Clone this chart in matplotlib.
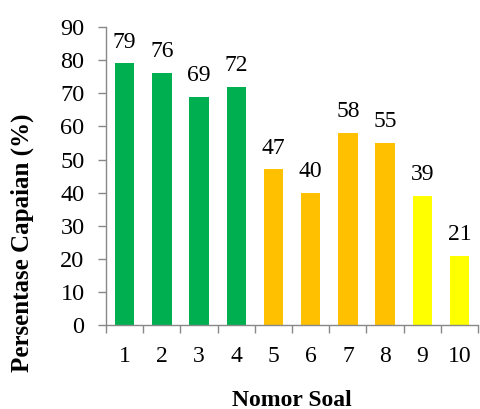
import matplotlib
matplotlib.use("Agg")
import matplotlib.pyplot as plt
import numpy as np

plt.rcParams['font.family'] = ['Liberation Serif', 'DejaVu Serif']

# data
soal = ['1', '2', '3', '4', '5', '6', '7', '8', '9', '10']
capaian = [79, 76, 69, 72, 47, 40, 58, 55, 39, 21]
warna = ['#00B050'] * 4 + ['#FFC000'] * 4 + ['#FFFF00'] * 2

fig = plt.figure(figsize=(4.8, 4.09), dpi=100)
ax = fig.add_axes([0.221, 0.205, 0.775, 0.729])

x = np.arange(len(soal))
ax.bar(x, capaian, width=0.52, color=warna)
for xi, v in zip(x, capaian):
    ax.text(xi, v + 3.3, str(v), ha='center', va='bottom', fontsize=17)

ax.set_xlim(-0.5, len(soal) - 0.5)
ax.set_ylim(0, 90)
ax.set_yticks(range(0, 91, 10))
ax.tick_params(axis='y', labelsize=17.5, direction='out', length=5.5, color='#888888', width=1, pad=10)
ax.set_xticks(x)
ax.set_xticklabels(soal)
ax.set_xticks(np.arange(-0.5, len(soal), 1), minor=True)
ax.tick_params(axis='x', which='major', length=0, labelsize=17, pad=15)
ax.tick_params(axis='x', which='minor', length=6, color='#888888', width=1)

for s in ['top', 'right']:
    ax.spines[s].set_visible(False)
for s in ['left', 'bottom']:
    ax.spines[s].set_color('#888888')
    ax.spines[s].set_linewidth(1)

fig.text(292 / 480, 1 - 400 / 409, 'Nomor Soal', fontsize=17, fontweight='bold',
         ha='center', va='center')
fig.text(22 / 480, 1 - 243 / 409, 'Persentase Capaian (%)', fontsize=18, fontweight='bold',
         ha='center', va='center', rotation=90)

fig.savefig('out.png', dpi=100)
